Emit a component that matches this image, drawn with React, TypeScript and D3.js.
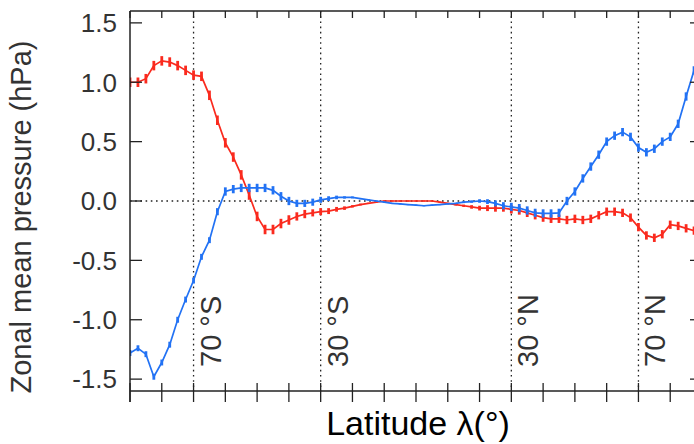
import React from "react";
import * as d3 from "d3";

// Latitude grid (degrees)
const latitudes = [
  -90, -87.5, -85, -82.5, -80, -77.5, -75, -72.5, -70, -67.5, -65, -62.5, -60, -57.5, -55, -52.5,
  -50, -47.5, -45, -42.5, -40, -37.5, -35, -32.5, -30, -27.5, -25, -22.5, -20, -17.5, -15, -12.5,
  -10, -7.5, -5, -2.5, 0, 2.5, 5, 7.5, 10, 12.5, 15, 17.5, 20, 22.5, 25, 27.5,
  30, 32.5, 35, 37.5, 40, 42.5, 45, 47.5, 50, 52.5, 55, 57.5, 60, 62.5, 65, 67.5,
  70, 72.5, 75, 77.5, 80, 82.5, 85, 87.5, 90,
];

// Red series (hPa)
const redValues = [
  1.0, 1.0, 1.03, 1.14, 1.18, 1.17, 1.14, 1.1, 1.06, 1.05, 0.89, 0.68, 0.49, 0.37, 0.22, 0.05,
  -0.13, -0.24, -0.24, -0.19, -0.16, -0.13, -0.11, -0.1, -0.09, -0.085, -0.07, -0.06, -0.045, -0.03, -0.02, -0.01,
  0.0, 0.0, 0.0, 0.0, 0.0, 0.0, 0.0, -0.01, -0.02, -0.03, -0.04, -0.05, -0.06, -0.06, -0.06, -0.06,
  -0.07, -0.08, -0.1, -0.12, -0.14, -0.15, -0.15, -0.16, -0.15, -0.16, -0.15, -0.12, -0.09, -0.09, -0.1, -0.14,
  -0.22, -0.29, -0.31, -0.28, -0.2, -0.21, -0.23, -0.25, -0.25,
];
const redErrors = [
  0.04, 0.04, 0.04, 0.04, 0.04, 0.04, 0.04, 0.04, 0.04, 0.04, 0.04, 0.04, 0.04, 0.04, 0.04, 0.04,
  0.04, 0.04, 0.04, 0.04, 0.04, 0.035, 0.035, 0.03, 0.03, 0.025, 0.02, 0.015, 0.01, 0.008, 0.005, 0.005,
  0.005, 0.005, 0.005, 0.005, 0.005, 0.005, 0.005, 0.005, 0.005, 0.008, 0.01, 0.015, 0.02, 0.025, 0.03, 0.03,
  0.035, 0.035, 0.035, 0.035, 0.035, 0.035, 0.035, 0.035, 0.035, 0.035, 0.035, 0.035, 0.035, 0.035, 0.035, 0.035,
  0.035, 0.035, 0.035, 0.035, 0.035, 0.035, 0.035, 0.035, 0.035,
];

// Blue series (hPa)
const blueValues = [
  -1.28, -1.24, -1.29, -1.48, -1.36, -1.21, -1.0, -0.83, -0.67, -0.47, -0.33, -0.09, 0.08, 0.1, 0.11, 0.11,
  0.11, 0.11, 0.09, 0.04, 0.0, -0.02, -0.02, -0.01, 0.01, 0.02, 0.03, 0.03, 0.03, 0.02, 0.01, 0.0,
  -0.01, -0.02, -0.025, -0.03, -0.035, -0.04, -0.035, -0.03, -0.025, -0.02, -0.01, -0.005, 0.0, -0.005, -0.02, -0.04,
  -0.05, -0.06, -0.08, -0.1, -0.105, -0.105, -0.1, 0.0, 0.08, 0.19, 0.29, 0.39, 0.5, 0.55, 0.58, 0.54,
  0.45, 0.41, 0.44, 0.5, 0.54, 0.65, 0.88, 1.1, 1.3,
];
const blueErrors = [
  0.025, 0.025, 0.025, 0.025, 0.025, 0.025, 0.025, 0.025, 0.025, 0.025, 0.025, 0.03, 0.035, 0.035, 0.035, 0.035,
  0.035, 0.035, 0.035, 0.035, 0.035, 0.03, 0.03, 0.03, 0.025, 0.02, 0.015, 0.01, 0.008, 0.005, 0.005, 0.005,
  0.005, 0.005, 0.005, 0.005, 0.005, 0.005, 0.005, 0.005, 0.005, 0.005, 0.008, 0.01, 0.015, 0.02, 0.025, 0.03,
  0.035, 0.035, 0.035, 0.035, 0.035, 0.035, 0.035, 0.035, 0.035, 0.035, 0.035, 0.035, 0.035, 0.035, 0.035, 0.035,
  0.035, 0.035, 0.035, 0.035, 0.035, 0.035, 0.035, 0.035, 0.035,
];

const yTicks = [-1.5, -1.0, -0.5, 0.0, 0.5, 1.0, 1.5];
const yTickLabels = ["-1.5", "-1.0", "-0.5", "0.0", "0.5", "1.0", "1.5"];
const xTicks = [-90, -80, -70, -60, -50, -40, -30, -20, -10, 0, 10, 20, 30, 40, 50, 60, 70, 80, 90];
const refLats = [-70, -30, 30, 70];
const refLabels = ["70 °S", "30 °S", "30 °N", "70 °N"];

const W = 694;
const H = 444;
const FONT = "'Liberation Sans', Arial, Helvetica, sans-serif";
const RED = "#fa2a1e";
const BLUE = "#2272f4";

export default function App() {
  const left = 130, right = 702, top = 11, bottom = 391;
  const x = d3.scaleLinear().domain([-90, 90]).range([left, right]);
  const y = d3.scaleLinear().domain([-1.6, 1.6]).range([bottom, top]);

  const line = d3
    .line<number>()
    .x((_, i) => x(latitudes[i]))
    .y((d) => y(d));

  const series = [
    { values: redValues, errors: redErrors, color: RED },
    { values: blueValues, errors: blueErrors, color: BLUE },
  ];

  return (
    <svg
      width={W}
      height={H}
      style={{ position: "absolute", left: 0, top: 0, background: "#fff" }}
      fontFamily={FONT}
    >
      <defs>
        <clipPath id="plot">
          <rect x={left} y={top} width={right - left} height={bottom - top} />
        </clipPath>
      </defs>

      {/* reference dotted lines */}
      {refLats.map((lat) => (
        <line
          key={"v" + lat}
          x1={x(lat)}
          x2={x(lat)}
          y1={top}
          y2={bottom}
          stroke="#222"
          strokeWidth={1.3}
          strokeDasharray="1.6,3.6"
        />
      ))}
      <line
        x1={left}
        x2={right}
        y1={y(0)}
        y2={y(0)}
        stroke="#222"
        strokeWidth={1.3}
        strokeDasharray="1.6,3.6"
      />

      {/* data */}
      <g clipPath="url(#plot)">
        {series.map((s, si) => (
          <g key={si}>
            <path d={line(s.values) || ""} fill="none" stroke={s.color} strokeWidth={1.7} />
            {s.values.map((v, i) => (
              <line
                key={i}
                x1={x(latitudes[i])}
                x2={x(latitudes[i])}
                y1={y(v - s.errors[i])}
                y2={y(v + s.errors[i])}
                stroke={s.color}
                strokeWidth={2.8}
              />
            ))}
          </g>
        ))}
      </g>

      {/* axes frame */}
      <line x1={left} x2={left} y1={top} y2={bottom + 11} stroke="#222" strokeWidth={1.5} />
      <line x1={left} x2={right} y1={top} y2={top} stroke="#222" strokeWidth={1.5} />
      <line x1={left} x2={right} y1={bottom} y2={bottom} stroke="#222" strokeWidth={1.5} />
      <line x1={right} x2={right} y1={top} y2={bottom} stroke="#222" strokeWidth={1.5} />

      {/* x ticks */}
      {xTicks.map((t) => (
        <g key={"xt" + t}>
          <line x1={x(t)} x2={x(t)} y1={bottom - 8} y2={bottom + 11} stroke="#222" strokeWidth={1.3} />
          <line x1={x(t)} x2={x(t)} y1={top} y2={top + 7} stroke="#222" strokeWidth={1.3} />
        </g>
      ))}

      {/* y ticks */}
      {yTicks.map((t, i) => (
        <g key={"yt" + t}>
          <line x1={left} x2={left + 12} y1={y(t)} y2={y(t)} stroke="#222" strokeWidth={1.3} />
          <line x1={right - 12} x2={right} y1={y(t)} y2={y(t)} stroke="#222" strokeWidth={1.3} />
          <text
            x={117}
            y={y(t)}
            dy="0.36em"
            textAnchor="end"
            fontSize={26}
            fill="#333"
          >
            {yTickLabels[i]}
          </text>
        </g>
      ))}

      {/* latitude reference labels */}
      {refLats.map((lat, i) => (
        <text
          key={"rl" + lat}
          transform={`translate(${x(lat) + 27},${367}) rotate(-90)`}
          fontSize={29}
          fill="#333"
        >
          {refLabels[i]}
        </text>
      ))}

      {/* axis titles */}
      <text
        transform={`translate(31,${217}) rotate(-90)`}
        textAnchor="middle"
        fontSize={29}
        fill="#333"
      >
        Zonal mean pressure (hPa)
      </text>
      <text x={418} y={435} textAnchor="middle" fontSize={34} fill="#000">
        Latitude λ(°)
      </text>
    </svg>
  );
}
